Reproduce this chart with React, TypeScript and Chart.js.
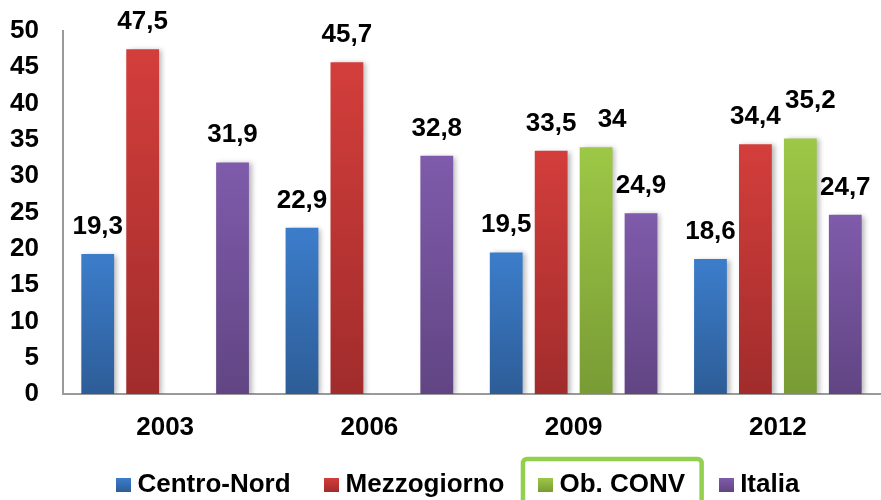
import React, { useEffect, useRef } from "react";
import { Chart, registerables } from "chart.js";

Chart.register(...registerables);

// ---- data ----
const categories = ["2003", "2006", "2009", "2012"];
const seriesNames = ["Centro-Nord", "Mezzogiorno", "Ob. CONV", "Italia"];
const centroNord: (number | null)[] = [19.3, 22.9, 19.5, 18.6];
const mezzogiorno: (number | null)[] = [47.5, 45.7, 33.5, 34.4];
const obConv: (number | null)[] = [null, null, 34, 35.2];
const italia: (number | null)[] = [31.9, 32.8, 24.9, 24.7];
const yMin = 0;
const yMax = 50;
const yStep = 5;

// ---- styles ----
const FONT = 'Arial, "Liberation Sans", sans-serif';
const topColors = ["#3C7DCB", "#D33E3B", "#9DC846", "#7F5BAB"];
const bottomColors = ["#2D5D97", "#A12C2C", "#799B35", "#614583"];
const LEGEND_PAD = 40;
// manual nudges for a couple of labels, as in the reference: [dx, dy]
const labelNudges: Record<string, [number, number]> = {
  "2-2": [16, 0],
  "2-3": [10, -10],
};

function barGradient(top: string, bottom: string) {
  return (c: any) => {
    const chart = c.chart;
    const area = chart.chartArea;
    if (!area || c.type !== "data" || c.raw == null) return top;
    const ys = chart.scales.y;
    if (!ys) return top;
    const y0 = ys.getPixelForValue(c.raw);
    const y1 = ys.getPixelForValue(0);
    if (!isFinite(y0) || !isFinite(y1) || y1 - y0 < 1) return top;
    const g = chart.ctx.createLinearGradient(0, y0, 0, y1);
    g.addColorStop(0, top);
    g.addColorStop(1, bottom);
    return g;
  };
}

function makeLegendSwatch(top: string, bottom: string) {
  const c = document.createElement("canvas");
  c.width = 15;
  c.height = 14;
  const x = c.getContext("2d")!;
  const g = x.createLinearGradient(0, 0, 0, 14);
  g.addColorStop(0, top);
  g.addColorStop(1, bottom);
  x.fillStyle = g;
  x.fillRect(0, 0, 15, 14);
  return c;
}

const shadowPlugin = {
  id: "barShadow",
  beforeDatasetsDraw(chart: any) {
    const ctx = chart.ctx;
    ctx.save();
    ctx.shadowColor = "rgba(0,0,0,0.28)";
    ctx.shadowBlur = 5;
    ctx.shadowOffsetX = 3;
    ctx.shadowOffsetY = 1;
  },
  afterDatasetsDraw(chart: any) {
    chart.ctx.restore();
  },
};

const valueLabels = {
  id: "valueLabels",
  afterDatasetsDraw(chart: any) {
    const ctx = chart.ctx;
    ctx.save();
    ctx.font = `bold 26px ${FONT}`;
    ctx.fillStyle = "#000";
    ctx.textAlign = "center";
    ctx.textBaseline = "alphabetic";
    chart.data.datasets.forEach((ds: any, di: number) => {
      const meta = chart.getDatasetMeta(di);
      meta.data.forEach((el: any, i: number) => {
        const v = ds.data[i];
        if (v == null) return;
        const [dx, dy] = labelNudges[`${di}-${i}`] || [0, 0];
        ctx.fillText(String(v).replace(".", ","), el.x + dx, el.y - 20 + dy);
      });
    });
    ctx.restore();
  },
};

const legendTweaks = {
  id: "legendTweaks",
  afterLayout(chart: any) {
    const lg = chart.legend;
    if (!lg || !lg.lineWidths) return;
    const pad = lg.options.labels.padding;
    const start = (lg.left + pad + lg.right - lg.lineWidths[0]) / 2;
    const d = 122.5 - start;
    lg.left += d;
    lg.right += d;
    const dy = LEGEND_PAD - 27.5;
    lg.top -= dy;
    lg.bottom -= dy;
  },
  afterDraw(chart: any) {
    const lg = chart.legend;
    if (!lg || !lg.legendHitBoxes || !lg.legendHitBoxes[2]) return;
    const hb = lg.legendHitBoxes[2];
    const ctx = chart.ctx;
    ctx.save();
    ctx.strokeStyle = "#92D050";
    ctx.lineWidth = 4.5;
    ctx.beginPath();
    if ((ctx as any).roundRect) {
      (ctx as any).roundRect(hb.left - 21.5, hb.top - 13, hb.width + 38, 80, 4);
    } else {
      ctx.rect(hb.left - 21.5, hb.top - 13, hb.width + 38, 80);
    }
    ctx.stroke();
    ctx.restore();
  },
};

export default function App() {
  const ref = useRef<HTMLCanvasElement>(null);

  useEffect(() => {
    const seriesData = [centroNord, mezzogiorno, obConv, italia];
    const swatches = topColors.map((t, i) => makeLegendSwatch(t, bottomColors[i]));
    const chart = new Chart(ref.current as HTMLCanvasElement, {
      type: "bar",
      data: {
        labels: categories,
        datasets: seriesNames.map((name, i) => ({
          label: name,
          data: seriesData[i] as any,
          backgroundColor: barGradient(topColors[i], bottomColors[i]) as any,
          borderWidth: 0,
          categoryPercentage: 0.88,
          barPercentage: 0.73,
        })),
      },
      options: {
        animation: false,
        responsive: true,
        maintainAspectRatio: false,
        layout: { padding: { top: 31, left: 10, right: 1, bottom: -8 - (LEGEND_PAD - 27.5) } },
        scales: {
          x: {
            grid: { display: false, drawTicks: false },
            border: { display: true, color: "#9a9a9a", width: 2 },
            ticks: {
              color: "#000",
              font: { family: FONT, size: 26, weight: "bold", lineHeight: 33 / 26 },
              padding: 17.5,
              maxRotation: 0,
            },
            afterFit(scale: any) {
              scale.height = 50.5;
              scale.paddingLeft = 0;
              scale.paddingRight = 0;
            },
          },
          y: {
            min: yMin,
            max: yMax,
            grid: { display: false, drawTicks: false },
            border: { display: true, color: "#9a9a9a", width: 2 },
            ticks: {
              stepSize: yStep,
              color: "#000",
              font: { family: FONT, size: 26, weight: "bold" },
              padding: 24,
            },
            afterFit(scale: any) {
              scale.width = 53;
              scale.paddingTop = 0;
              scale.paddingBottom = 0;
            },
          },
        },
        plugins: {
          tooltip: { enabled: false },
          legend: {
            display: true,
            position: "bottom",
            labels: {
              color: "#000",
              font: { family: FONT, size: 26, weight: "bold" },
              usePointStyle: true,
              pointStyleWidth: 2,
              boxHeight: 14,
              padding: LEGEND_PAD,
              generateLabels(c: any) {
                const items = (Chart.defaults.plugins.legend.labels as any).generateLabels(c);
                items.forEach((it: any, i: number) => {
                  it.pointStyle = swatches[i];
                  it.fillStyle = topColors[i];
                  it.strokeStyle = "rgba(0,0,0,0)";
                  it.lineWidth = 0;
                });
                return items;
              },
            },
          },
        },
      },
      plugins: [shadowPlugin, valueLabels, legendTweaks],
    });
    return () => chart.destroy();
  }, []);

  return (
    <div
      style={{
        position: "absolute",
        left: 0,
        top: 0,
        width: 881,
        height: 500,
        background: "#fff",
      }}
    >
      <canvas ref={ref} />
    </div>
  );
}
